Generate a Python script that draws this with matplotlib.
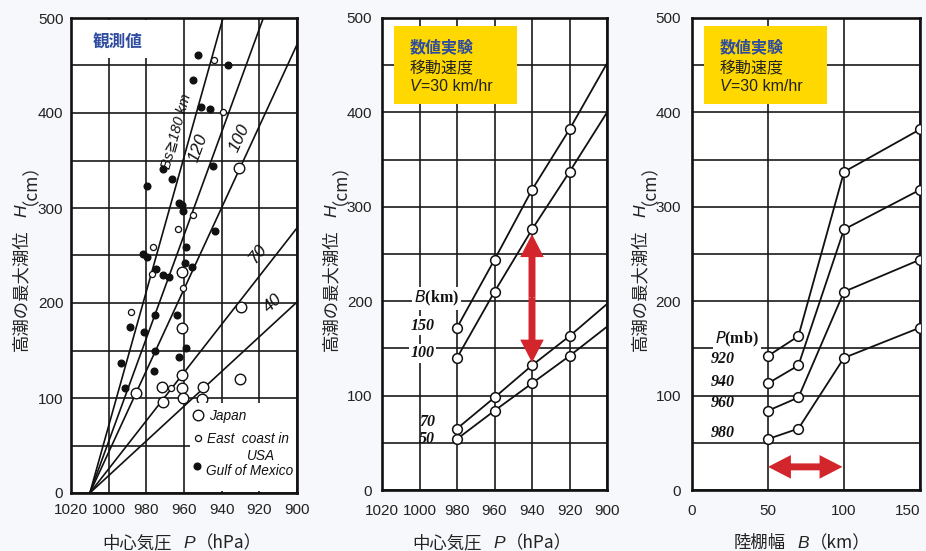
import matplotlib
matplotlib.use('Agg')
import matplotlib.pyplot as plt
from matplotlib.transforms import IdentityTransform
from matplotlib.patches import Rectangle, FancyArrowPatch
import numpy as np

W, HP = 926, 551
DPI = 100

# ---------------- data ----------------
# left panel: observed values
fan_origin_p = 1010
fan_end_p = 900
fan_end_h = [778, 597, 472, 279, 201]
fan_labels = ['Bs≧180 km', '120', '100', '70', '40']
fan_label_p = [964.0, 952.5, 930.5, 921.0, 913.0]
fan_label_h = [381, 363, 374, 252, 200]

japan_p = [930.8, 961.2, 961.0, 961.0, 985.5, 971.8, 961.0, 950.0, 971.3, 960.6, 950.3, 929.9, 930.4]
japan_h = [342, 233, 174, 124, 105, 112, 111, 112, 96, 99.6, 99, 196, 120]
east_p = [944.3, 939.3, 955.3, 963.3, 976.6, 977.2, 960.3, 988.2, 966.8]
east_h = [456, 401, 293, 277.5, 258.6, 231, 216, 191, 111]
gulf_p = [952.6, 936.6, 955.3, 950.8, 946.0, 944.6, 971.0, 966.3, 979.8, 962.4, 961.0, 960.3,
          943.7, 958.8, 982.0, 979.8, 974.8, 971.3, 967.7, 959.7, 955.8, 988.5, 981.0, 975.4,
          963.8, 993.2, 975.2, 976.0, 962.8, 958.7, 991.2]
gulf_h = [461, 450, 435, 406, 404.5, 344.5, 341, 331, 323, 305.6, 303, 297,
          276, 259, 252, 248, 235.5, 230, 227, 242, 237.6, 175, 170, 187,
          187, 137, 150, 128.4, 143.5, 153, 111]

# numerical experiment (V = 30 km/hr)
pressures = [980, 960, 940, 920]          # hPa
shelf_widths = [50, 70, 100, 150]          # km
surge_b50 = [54, 84, 113, 142]
surge_b70 = [65, 98, 132, 163]
surge_b100 = [140, 210, 276, 337]
surge_b150 = [172, 244, 318, 382]
surge_at_900 = [173, 197, 400, 452]        # where each line meets the 900 hPa edge

x_ticks_p = [1020, 1000, 980, 960, 940, 920, 900]
y_ticks_h = [0, 100, 200, 300, 400, 500]
x_ticks_b = [0, 50, 100, 150]

CJK = 'Noto Sans CJK JP'
LAT = 'Liberation Sans'

fig = plt.figure(figsize=(W / DPI, HP / DPI), dpi=DPI)
fig.patch.set_facecolor('#f7f8fb')


def px_axes(x0, y0, x1, y1):
    return fig.add_axes([x0 / W, 1 - y1 / HP, (x1 - x0) / W, (y1 - y0) / HP])


def style_axes(ax, xpad, ypad):
    ax.set_facecolor('white')
    ax.set_axisbelow(True)
    for s in ax.spines.values():
        s.set_linewidth(1.9)
        s.set_color('#111111')
    ax.set_yticks(y_ticks_h)
    ax.set_yticks(np.arange(50, 500, 100), minor=True)
    ax.grid(True, which='both', color='#1a1a1a', lw=1.2)
    ax.tick_params(which='both', length=0)
    ax.tick_params(axis='x', pad=xpad, labelsize=11, labelcolor='#222222')
    ax.tick_params(axis='y', pad=ypad, labelsize=11, labelcolor='#222222')
    for lab in ax.get_xticklabels() + ax.get_yticklabels():
        lab.set_fontfamily(LAT)
    ax.set_ylim(0, 500)


def rich(x, y, pieces, rotation=0, ha='center'):
    """pieces: list of (text, kwargs) or numeric gaps (px). x, y image px; y = baseline."""
    r = fig.canvas.get_renderer()
    widths = []
    for p in pieces:
        if isinstance(p, (int, float)):
            widths.append(p)
            continue
        s, kw = p
        t = fig.text(0, 0, s, transform=IdentityTransform(), **kw)
        widths.append(t.get_window_extent(r).width)
        t.remove()
    total = sum(widths)
    off = -total / 2 if ha == 'center' else 0
    yd = HP - y
    for p, w in zip(pieces, widths):
        if not isinstance(p, (int, float)):
            s, kw = p
            if rotation == 0:
                fig.text(x + off, yd, s, transform=IdentityTransform(), ha='left',
                         va='baseline', **kw)
            else:
                fig.text(x, yd + off, s, transform=IdentityTransform(), rotation=90,
                         rotation_mode='anchor', ha='left', va='baseline', **kw)
        off += w


# ---------------- left panel ----------------
ax1 = px_axes(71, 18, 297, 493)
ax1.set_xlim(1020, 900)
ax1.set_xticks(x_ticks_p)
style_axes(ax1, 7.5, 5.5)

for h_end in fan_end_h:
    ax1.plot([fan_origin_p, fan_end_p], [0, h_end], color='#111111', lw=1.2, zorder=2)

fig.canvas.draw()
for i, (lab, p, h, h_end) in enumerate(zip(fan_labels, fan_label_p, fan_label_h, fan_end_h)):
    a = ax1.transData.transform([(fan_origin_p, 0), (fan_end_p, h_end)])
    ang = np.degrees(np.arctan2(a[1, 1] - a[0, 1], a[1, 0] - a[0, 0]))
    ax1.text(p, h, lab, rotation=ang, rotation_mode='anchor', ha='center', va='center',
             fontsize=10.5 if i == 0 else 12.5, style='italic', family=[LAT, 'DejaVu Sans'],
             color='#111111', zorder=3)

ax1.plot(gulf_p, gulf_h, 'o', ms=4.8, color='#111111', mec='#111111', zorder=4)
ax1.plot(east_p, east_h, 'o', ms=4.4, mfc='white', mec='#111111', mew=0.9, zorder=4)
ax1.plot(japan_p, japan_h, 'o', ms=7.6, mfc='white', mec='#111111', mew=1.0, zorder=4)

# white boxes (label "観測値" and legend)
fig.patches.append(Rectangle((73, HP - 58), 88, 38, transform=IdentityTransform(),
                             fc='white', ec='none', figure=fig, zorder=1))
fig.patches.append(Rectangle((190, HP - 491), 106, 88, transform=IdentityTransform(),
                             fc='white', ec='none', figure=fig, zorder=1))
fig.text(118, HP - 48, '観測値', transform=IdentityTransform(), ha='center', va='baseline',
         fontsize=12, family=CJK, fontweight='bold', color='#2f4c9e', zorder=4)

# legend
leg_fs = 9.8
fig.lines.append(plt.Line2D([198], [HP - 415], marker='o', ms=7.6, mfc='white', mec='#111111',
                            mew=1.0, ls='none', transform=IdentityTransform(), figure=fig))
fig.lines.append(plt.Line2D([198], [HP - 438], marker='o', ms=4.4, mfc='white', mec='#111111',
                            mew=0.9, ls='none', transform=IdentityTransform(), figure=fig))
fig.lines.append(plt.Line2D([197], [HP - 466], marker='o', ms=4.8, mfc='#111111', mec='#111111',
                            ls='none', transform=IdentityTransform(), figure=fig))
for txt, x, y in [('Japan', 209, 420), ('East  coast in', 207, 443), ('USA', 247, 460),
                  ('Gulf of Mexico', 206, 475)]:
    fig.text(x, HP - y, txt, transform=IdentityTransform(), ha='left', va='baseline',
             fontsize=leg_fs, style='italic', family=LAT, color='#111111', zorder=4)

# ---------------- middle panel ----------------
ax2 = px_axes(382, 18, 607, 490)
ax2.set_xlim(1020, 900)
ax2.set_xticks(x_ticks_p)
style_axes(ax2, 10, 7)

for series, h900 in zip([surge_b50, surge_b70, surge_b100, surge_b150], surge_at_900):
    ax2.plot(pressures + [900], series + [h900], color='#111111', lw=1.3, zorder=2)
    ax2.plot(pressures, series, 'o', ms=7, mfc='white', mec='#111111', mew=1.1, zorder=3)

lab_font = dict(family=['Liberation Serif', 'DejaVu Serif'], fontweight='bold',
                color='#111111', fontsize=11.5)
ax2.text(991, 203, '$\\it{B}$(km)', ha='center', va='center', zorder=4,
         bbox=dict(fc='white', ec='none', pad=1.5), **lab_font)
for txt, h in [('150', 174), ('100', 145)]:
    ax2.text(998.5, h, txt, ha='center', va='center', style='italic', zorder=4,
             bbox=dict(fc='white', ec='none', pad=1.0), **lab_font)
for txt, h in [('70', 72), ('50', 54)]:
    ax2.text(996, h, txt, ha='center', va='center', style='italic', zorder=4, **lab_font)

# ---------------- right panel ----------------
ax3 = px_axes(692, 18, 920, 490)
ax3.set_xlim(0, 150)
ax3.set_xticks(x_ticks_b)
style_axes(ax3, 10, 8)
ax3.get_xticklabels()[-1].set_horizontalalignment('right')

by_pressure = np.array([surge_b50, surge_b70, surge_b100, surge_b150]).T
for row in by_pressure:
    ax3.plot(shelf_widths, row, '-o', color='#111111', lw=1.3, ms=7, mfc='white',
             mec='#111111', mew=1.1, zorder=3)

ax3.text(29.7, 160, '$\\it{P}$(mb)', ha='center', va='center', zorder=4,
         bbox=dict(fc='white', ec='none', pad=1.5), **lab_font)
for p, h in zip(pressures[::-1], [139, 114, 92, 60]):
    ax3.text(20.4, h, str(p), ha='center', va='center', style='italic', zorder=4, **lab_font)

# red arrows
RED = '#d3262c'
for ax, a, b in [(ax2, (940, 204), (940, 271)), (ax2, (940, 204), (940, 135)),
                 (ax3, (75, 24.5), (99, 24.5)), (ax3, (75, 24.5), (50, 24.5))]:
    ax.add_patch(FancyArrowPatch(a, b, arrowstyle='simple,head_length=1.65,head_width=1.7,tail_width=0.5',
                                 mutation_scale=10, color=RED, lw=0, shrinkA=0, shrinkB=0,
                                 zorder=5))

# yellow boxes
box_text = [('数値実験', '#2f4c9e', 'bold'), ('移動速度', '#222222', 'normal')]
for x0 in (394, 704):
    fig.patches.append(Rectangle((x0, HP - 104), 123, 78, transform=IdentityTransform(),
                                 fc='#ffd800', ec='none', figure=fig, zorder=1))
    for (t, c, wgt), yb in zip(box_text, [52, 72]):
        fig.text(x0 + 16, HP - yb, t, transform=IdentityTransform(), ha='left',
                 va='baseline', fontsize=11.5, family=CJK, color=c, fontweight=wgt, zorder=4)
    rich(x0 + 16, 91, [('V', dict(fontsize=11.5, family=LAT, style='italic', color='#222222')),
                       ('=30 km/hr', dict(fontsize=11.5, family=LAT, color='#222222'))],
         ha='left')

# axis labels
lab_cjk = dict(fontsize=12.5, family=CJK, color='#222222')
lab_it = dict(fontsize=12.5, family=LAT, style='italic', color='#222222')
for xc in (182, 492):
    rich(xc, 548, [('中心気圧', lab_cjk), 12, ('P', lab_it), ('（hPa）', lab_cjk)])
rich(802, 548, [('陸棚幅', lab_cjk), 12, ('B', lab_it), ('（km）', lab_cjk)])
for xc in (26, 336, 645):
    rich(xc, 248, [('高潮の最大潮位', lab_cjk), 12, ('H', lab_it), ('（cm）', lab_cjk)],
         rotation=90)

fig.savefig('out.png', dpi=DPI, facecolor=fig.get_facecolor())
